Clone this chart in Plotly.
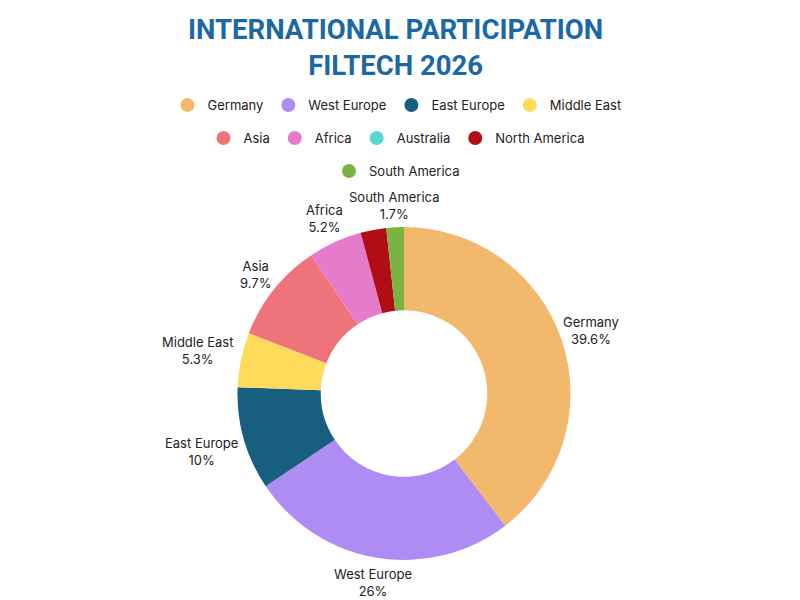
import math
import plotly.graph_objects as go

regions = ["Germany", "West Europe", "East Europe", "Middle East", "Asia",
           "Africa", "Australia", "North America", "South America"]
shares = [39.6, 26.0, 10.0, 5.3, 9.7, 5.2, 0.0, 2.5, 1.7]
share_labels = ["39.6%", "26%", "10%", "5.3%", "9.7%", "5.2%", "", "", "1.7%"]
show_label = [True, True, True, True, True, True, False, False, True]
colors = ["#F2B86C", "#AE8CF4", "#175E80", "#FFDB5C", "#EF737A",
          "#E77BCB", "#5AD7D1", "#B00E14", "#7BB342"]
legend_rows = [["Germany", "West Europe", "East Europe", "Middle East"],
               ["Asia", "Africa", "Australia", "North America"],
               ["South America"]]

# the page body has an 8px margin; layout positions compensate for it
OFF = 8
H = 600
W = 800

dom = dict(x=[0.0, 0.99], y=[1 - (560 - OFF) / H, 1 - (227 - OFF) / H])

fig = go.Figure()
fig.add_trace(go.Pie(
    labels=regions, values=shares, textinfo="none",
    sort=False, direction="clockwise", rotation=0, hole=0.5,
    marker=dict(colors=colors, line=dict(width=0)),
    showlegend=False, domain=dom, hoverinfo="label+percent",
))

# outside labels, placed at each slice's mid-angle (derived from the values)
cx = (dom["x"][0] + dom["x"][1]) / 2 * W
cy = (1 - (dom["y"][0] + dom["y"][1]) / 2) * H
radius = min((dom["x"][1] - dom["x"][0]) * W, (dom["y"][1] - dom["y"][0]) * H) / 2
total = sum(shares)
annotations = []
cum = 0.0
for name, val, lab, show in zip(regions, shares, share_labels, show_label):
    mid = (cum + val / 2) / total * 2 * math.pi
    cum += val
    if not show:
        continue
    dx, dy = math.sin(mid), -math.cos(mid)
    half_w = max(len(name), len(lab)) * 7.0 / 2
    half_h = 16
    dist = radius + 3 + abs(dx) * half_w + abs(dy) * half_h
    px, py = cx + dx * dist, cy + dy * dist
    annotations.append(dict(
        text=f"{name}<br>{lab}", xref="paper", yref="paper",
        x=px / W, y=1 - py / H, xanchor="center", yanchor="middle",
        showarrow=False, font=dict(family="Inter", size=13, color="#222222"),
    ))

annotations.append(dict(
    text="INTERNATIONAL PARTICIPATION<br>FILTECH 2026",
    xref="paper", yref="paper", x=(395 - OFF) / W, y=1 - 40 / H,
    xanchor="center", yanchor="middle", showarrow=False,
    font=dict(family="Roboto", size=27.5, color="#1C68A4", weight=700),
))

legend_names = ["legend", "legend2", "legend3"]
for row_i, row in enumerate(legend_rows):
    for name in row:
        c = colors[regions.index(name)]
        fig.add_trace(go.Scatter(
            x=[None], y=[None], mode="markers", name=name,
            marker=dict(symbol="circle", size=14, color=c),
            legend=legend_names[row_i], showlegend=True,
        ))

leg_common = dict(orientation="h", xanchor="center", x=(397 - OFF) / W, yanchor="middle",
                  font=dict(family="Inter", size=13, color="#222222"),
                  itemwidth=30, bgcolor="rgba(0,0,0,0)")

fig.update_layout(
    width=W, height=H,
    margin=dict(l=0, r=0, t=0, b=0, autoexpand=False),
    paper_bgcolor="white", plot_bgcolor="white",
    xaxis=dict(visible=False), yaxis=dict(visible=False),
    legend=dict(**leg_common, y=1 - (105 - OFF) / H),
    legend2=dict(**leg_common, y=1 - (138 - OFF) / H),
    legend3=dict(**leg_common, y=1 - (171 - OFF) / H),
    annotations=annotations,
)

fig.write_html("out.html")
